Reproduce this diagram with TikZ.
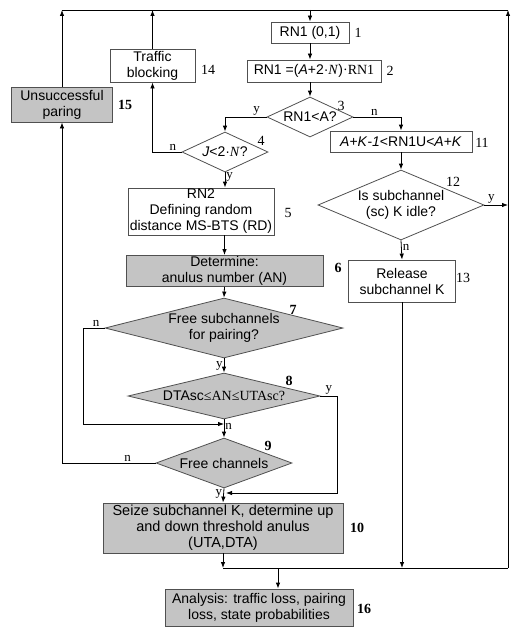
\documentclass[tikz,border=0pt]{standalone}
\usepackage{fontspec}
\setmainfont{Liberation Sans}
\newfontfamily\tnr{Liberation Serif}
\usepackage{tikz}
\usetikzlibrary{arrows.meta,shapes.geometric,positioning,calc}
\definecolor{boxgray}{RGB}{196,196,196}
\definecolor{linegray}{RGB}{80,80,80}
\tikzset{
  proc/.style  = {draw=linegray, line width=0.8pt, fill=white, inner sep=1pt,
                  align=center, font=\fontsize{14}{16}\selectfont},
  procg/.style = {proc, fill=boxgray},
  dec/.style   = {diamond, draw=linegray, line width=0.8pt, fill=white, inner sep=0pt},
  decg/.style  = {dec, fill=boxgray},
  dtxt/.style  = {align=center, font=\fontsize{14}{16}\selectfont},
  arr/.style   = {-{Latex[length=6pt,width=4.5pt]}, line width=0.8pt},
  lne/.style   = {line width=0.8pt},
  num/.style   = {font=\tnr\fontsize{14}{14}\selectfont, inner sep=0pt},
  numb/.style  = {font=\tnr\bfseries\fontsize{14}{14}\selectfont, inner sep=0pt},
  yn/.style    = {font=\tnr\fontsize{13}{13}\selectfont, inner sep=1pt},
}

\begin{document}
\begin{tikzpicture}[x=1pt,y=-1pt]
    \useasboundingbox (0,0) rectangle (515,634);
    % -- Random number RN1 -------------------------------------------
    \node[proc, minimum width=78pt, minimum height=21pt] (b1) at (310,32.5) {RN1 (0,1)};
    \node[proc, minimum width=134pt, minimum height=22pt] (b2) at (314,71)
        {RN1 =(\textit{A}+2·{\tnr\textit{N}}){\tnr ·RN1}};
    \node[dec, minimum width=86pt, minimum height=40pt,
        label={[dtxt, name=d3t]center:RN1<A?}] (d3) at (310,117) {};
    % -- Left branch: new call ---------------------------------------
    \node[dec, minimum width=86pt, minimum height=40pt,
        label={[dtxt, name=d4t]center:\textit{J}<2·{\tnr\textit{N}}?}] (d4) at (225,152) {};
    \node[proc, minimum width=85pt, minimum height=33pt] (tb) at (152.5,65.5) {Traffic\\blocking};
    \node[procg, minimum width=101pt, minimum height=35pt] (up) at (62,104.5) {Unsuccessful\\paring};
    \node[proc, minimum width=146pt, minimum height=47pt] (b5) at (201,211.5)
        {RN2\\Defining random\\distance MS-BTS (RD)};
    \node[procg, minimum width=197pt, minimum height=30pt] (b6) at (224.5,271)
        {Determine:\\anulus number (AN)};
    \node[decg, minimum width=238pt, minimum height=60pt,
        label={[dtxt, name=d7t]center:Free subchannels\\for pairing?}] (d7) at (224,328) {};
    \node[decg, minimum width=192pt, minimum height=46pt,
        label={[dtxt, name=d8t]center:DTAsc{\tnr ≤AN≤UTAsc?}}] (d8) at (224,396) {};
    \node[decg, minimum width=136pt, minimum height=50pt,
        label={[dtxt, name=d9t]center:Free channels}] (d9) at (224,463) {};
    \node[procg, minimum width=240pt, minimum height=50pt, font=\fontsize{14.5}{16}\selectfont] (b10) at (223,528)
        {Seize subchannel K, determine up\\and down threshold anulus\\(UTA,DTA)};
    % -- Right branch: release ---------------------------------------
    \node[proc, minimum width=142pt, minimum height=21pt] (b11) at (401,141.5)
        {\textit{A}+\textit{K}-\textit{1}<RN1U<\textit{A}+\textit{K}};
    \node[dec, minimum width=166pt, minimum height=70pt,
        label={[dtxt, name=d12t]center:Is subchannel\\(sc) K idle?}] (d12) at (401,205) {};
    \node[proc, minimum width=107pt, minimum height=42pt] (b13) at (402,281) {Release\\subchannel K};
    % -- Analysis ----------------------------------------------------
    \node[procg, minimum width=188pt, minimum height=37pt] (b16) at (259,607.5)
        {Analysis: traffic loss, pairing\\loss, state probabilities};

    % -- Block numbers -----------------------------------------------
    \foreach \nm/\pos/\txt in {n1/{358,33}/1, n2/{390,71}/2, n3/{341,106}/3,
                               n4/{261,141}/4, n5/{288,213}/5, n11/{482,143}/11,
                               n12/{453,182}/12, n13/{463,278}/13, n14/{208,70}/14}{
        \node[num] (\nm) at (\pos) {\txt};
    }
    \foreach \nm/\pos/\txt in {n6/{338,268}/6, n7/{293,310}/7, n8/{289,381}/8,
                               n9/{268,446}/9, n10/{357,528}/10, n15/{125,105}/15,
                               n16/{364,609}/16}{
        \node[numb] (\nm) at (\pos) {\txt};
    }

    % -- Connectors --------------------------------------------------
    \coordinate (tl) at (up.north |- 0,10);
    \coordinate (tr) at (508,10);
    \coordinate (mr) at (508,568);
    \draw[lne] (tl) -- (tr);
    \draw[arr] (up.north) -- (tl);
    \draw[arr] (tb.north) -- (tb.north |- tl);
    \draw[arr] (b1.north |- tl) -- (b1.north);
    \draw[arr] (b1.south) -- (b1.south |- b2.north);
    \draw[arr] (b1.south |- b2.south) -- (d3.north);
    \draw[arr] (d3.west) -| (d4.north) node[yn, above, pos=0.12] {y};
    \draw[arr] (d3.east) -| (b11.north) node[yn, above, pos=0.22] {n};
    \draw[arr] (d4.west) -| (tb.south) node[yn, above, pos=0.15] {n};
    \draw[arr] (d4.south) -- (d4.south |- b5.north) node[yn, right, pos=0.3] {y};
    \draw[arr] (b6.north |- b5.south) -- (b6.north);
    \draw[arr] (b6.south) -- (d7.north);
    \draw[arr] (d7.west) -- ++(-21,0) node[yn, above, pos=0.4] {n} |- (d8.south |- 0,424);
    \draw[arr] (d7.south) -- (d8.north) node[yn, left, pos=0.5] {y};
    \draw[arr] (d8.south) -- (d9.north) node[yn, right, pos=0.4] {n};
    \draw[arr] (d8.east) -- ++(17,0) node[yn, above, pos=0.5] {y} |- ([xshift=2pt]d9.south |- 0,493);
    \draw[arr] (d9.south) -- (b10.north) node[yn, left, pos=0.4] {y};
    \draw[arr] (d9.west) -| (up.south) node[yn, above, pos=0.15] {n};
    \draw[arr] (b11.south) -- (d12.north);
    \draw[arr] (d12.east) -- (d12.east -| tr) node[yn, above, pos=0.3] {y};
    \draw[arr] (d12.south) -- (b13.north) node[yn, right, pos=0.35] {n};
    \draw[arr] (b13.south) -- (b13.south |- mr);
    \draw[arr] (b10.south) -- (b10.south |- mr);
    \draw[lne] (b10.south |- mr) -- (mr);
    \draw[arr] (mr) -- (tr);
    \draw[arr] ([xshift=19pt]b16.north |- mr) -- ([xshift=19pt]b16.north);
\end{tikzpicture}
\end{document}
